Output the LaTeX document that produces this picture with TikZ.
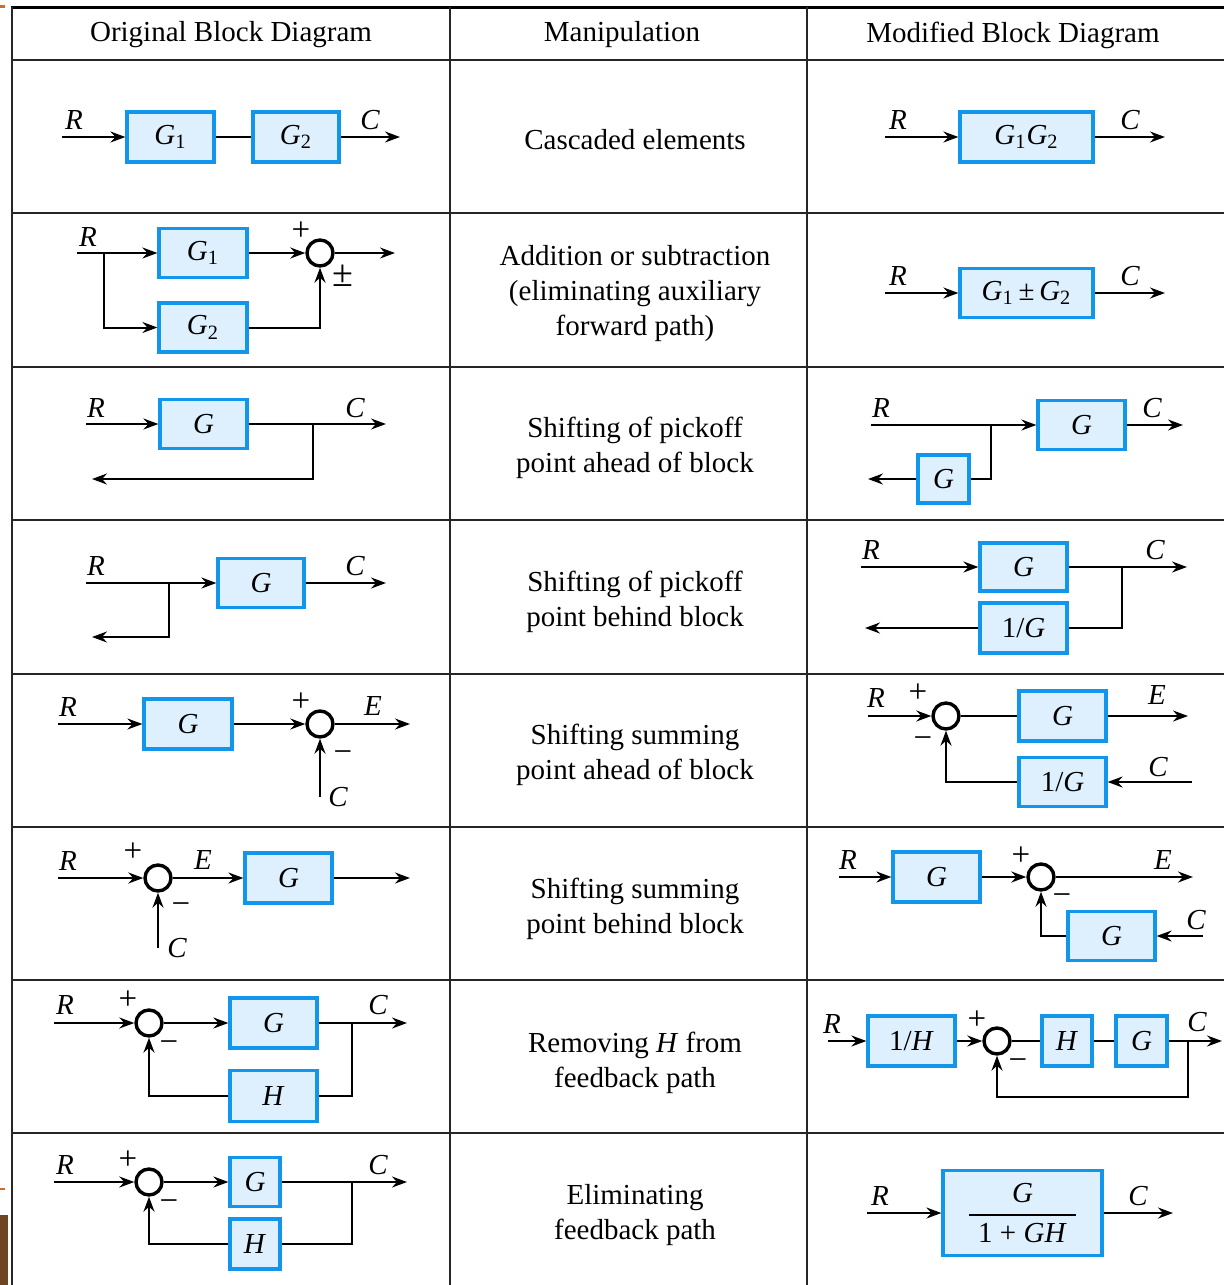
\documentclass[tikz,border=0pt]{standalone}
\usepackage{fontspec}
\setmainfont{Liberation Serif}
\usetikzlibrary{arrows.meta}
\definecolor{bblue}{RGB}{18,150,235}
\definecolor{bfill}{RGB}{222,239,253}
\definecolor{artor}{RGB}{205,110,40}
\definecolor{artbr}{RGB}{110,70,35}
\newcommand{\Gone}{\textit{G}\textsubscript{1}}
\newcommand{\Gtwo}{\textit{G}\textsubscript{2}}
\newcommand{\mns}{\char"2212}
\tikzset{
 every node/.style={font=\fontsize{14.5}{17.5}\selectfont},
 blk/.style={draw=bblue, fill=bfill, line width=1.6pt, inner sep=0pt},
 wh/.style 2 args={minimum width=#1*0.5pt, minimum height=#2*0.5pt},
 sumj/.style={circle, draw, line width=1.7pt, minimum size=13pt, inner sep=0pt},
 ln/.style={line width=1pt},
 ar/.style={line width=1pt, -{Stealth[length=7.5pt,width=5.5pt,inset=2.5pt]}},
 lbl/.style={inner sep=0pt, font=\fontsize{14.5}{17.5}\selectfont\itshape},
 sg/.style={inner sep=0pt, font=\fontsize{16.5}{18}\selectfont},
 mid/.style={align=center, inner sep=0pt},
 tline/.style={line width=1.2pt, draw=black!85},
}
\begin{document}
\begin{tikzpicture}[x=0.5pt,y=-0.5pt]
\useasboundingbox (0,0) rectangle (1224,1285);
% edge artifacts
\fill[artor] (0,5) rectangle (5,8);
\fill[artor] (0,1188) rectangle (5,1190);
\fill[artbr] (0,1215) rectangle (8,1285);
% table
\draw[line width=1.5pt] (11,7) -- (1224,7);
\foreach \yy in {60,213,367,520,674,827,980,1133} \draw[tline] (11,\yy) -- (1224,\yy);
\foreach \xx in {12,450,807} \draw[tline] (\xx,7) -- (\xx,1285);
% headers
\node (h1) at (231,35) {Original Block Diagram};
\node (h2) at (622,35) {Manipulation};
\node (h3) at (1013,35) {Modified Block Diagram};

% ---------- Row 1
\node[blk,wh={87}{50}] (r1a) at (170.5,137) {\Gone};
\node[blk,wh={86}{50}] (r1b) at (296,137) {\Gtwo};
\coordinate (r1i) at (62,137); \coordinate (r1o) at (400,137);
\draw[ar] (r1i) -- (r1a); \draw[ln] (r1a) -- (r1b); \draw[ar] (r1b) -- (r1o);
\node[lbl] (r1R) at (74,120) {R}; \node[lbl] (r1C) at (370,120) {C};
\node[mid] (r1m) at (635,140) {Cascaded elements};
\node[blk,wh={133}{50}] (r1c) at (1026.5,137) {\Gone\Gtwo};
\coordinate (r1j) at (885,137); \coordinate (r1p) at (1165,137);
\draw[ar] (r1j) -- (r1c); \draw[ar] (r1c) -- (r1p);
\node[lbl] (r1R2) at (898,120) {R}; \node[lbl] (r1C2) at (1130,120) {C};

% ---------- Row 2
\node[blk,wh={88}{49}] (r2a) at (203,253) {\Gone};
\node[blk,wh={88}{49}] (r2b) at (203,327.5) {\Gtwo};
\node[sumj] (r2s) at (320,253) {};
\coordinate (r2i) at (77,253); \coordinate (r2k) at (104,253); \coordinate (r2o) at (395,253);
\draw[ar] (r2i) -- (r2a); \draw[ar] (r2k) |- (r2b); \draw[ar] (r2a) -- (r2s);
\draw[ar] (r2s) -- (r2o); \draw[ar] (r2b) -| (r2s);
\node[lbl] (r2R) at (88,237) {R};
\node[sg] (r2p1) at (301,231) {+}; \node[sg,font=\fontsize{19}{20}\selectfont] (r2p2) at (343,276) {±};
\node[mid] (r2m) at (635,294) {Addition or subtraction\\(eliminating auxiliary\\forward path)};
\node[blk,wh={133}{49}] (r2c) at (1026.5,293) {\Gone\,±\,\Gtwo};
\coordinate (r2j) at (885,293); \coordinate (r2p) at (1165,293);
\draw[ar] (r2j) -- (r2c); \draw[ar] (r2c) -- (r2p);
\node[lbl] (r2R2) at (898,276) {R}; \node[lbl] (r2C2) at (1130,276) {C};

% ---------- Row 3
\node[blk,wh={87}{49}] (r3a) at (203.5,424) {\textit{G}};
\coordinate (r3i) at (86,424); \coordinate (r3o) at (386,424);
\coordinate (r3k) at (313,424); \coordinate (r3f) at (92,479);
\draw[ar] (r3i) -- (r3a); \draw[ar] (r3a) -- (r3o); \draw[ar] (r3k) |- (r3f);
\node[lbl] (r3R) at (96,408) {R}; \node[lbl] (r3C) at (355,408) {C};
\node[mid] (r3m) at (635,447.5) {Shifting of pickoff\\point ahead of block};
\node[blk,wh={87}{49}] (r3b) at (1081.5,425) {\textit{G}};
\node[blk,wh={51}{48}] (r3c) at (943.5,479) {\textit{G}};
\coordinate (r3j) at (871,425); \coordinate (r3p) at (1183,425);
\coordinate (r3q) at (991,425); \coordinate (r3g) at (868,479);
\draw[ar] (r3j) -- (r3b); \draw[ar] (r3b) -- (r3p); \draw[ln] (r3q) |- (r3c); \draw[ar] (r3c) -- (r3g);
\node[lbl] (r3R2) at (881,408) {R}; \node[lbl] (r3C2) at (1152,408) {C};

% ---------- Row 4
\node[blk,wh={86}{49}] (r4a) at (261,583) {\textit{G}};
\coordinate (r4i) at (86,583); \coordinate (r4o) at (386,583);
\coordinate (r4k) at (169,583); \coordinate (r4f) at (92,637);
\draw[ar] (r4i) -- (r4a); \draw[ar] (r4a) -- (r4o); \draw[ar] (r4k) |- (r4f);
\node[lbl] (r4R) at (96,566) {R}; \node[lbl] (r4C) at (355,566) {C};
\node[mid] (r4m) at (635,601.5) {Shifting of pickoff\\point behind block};
\node[blk,wh={87}{48}] (r4b) at (1023.5,567) {\textit{G}};
\node[blk,wh={87}{50}] (r4c) at (1023.5,628) {1/\textit{G}};
\coordinate (r4j) at (861,567); \coordinate (r4p) at (1187,567);
\coordinate (r4q) at (1122,567); \coordinate (r4g) at (865,628);
\draw[ar] (r4j) -- (r4b); \draw[ar] (r4b) -- (r4p); \draw[ln] (r4q) |- (r4c); \draw[ar] (r4c) -- (r4g);
\node[lbl] (r4R2) at (871,550) {R}; \node[lbl] (r4C2) at (1155,550) {C};

% ---------- Row 5
\node[blk,wh={88}{50}] (r5a) at (188,724) {\textit{G}};
\node[sumj] (r5s) at (320,724) {};
\coordinate (r5i) at (58,724); \coordinate (r5o) at (410,724); \coordinate (r5f) at (320,797);
\draw[ar] (r5i) -- (r5a); \draw[ar] (r5a) -- (r5s); \draw[ar] (r5s) -- (r5o); \draw[ar] (r5f) -- (r5s);
\node[lbl] (r5R) at (68,707) {R}; \node[sg] (r5p1) at (301,702) {+}; \node[sg] (r5m1) at (343,757) {\mns};
\node[lbl] (r5E) at (373,706) {E}; \node[lbl] (r5C) at (338,797) {C};
\node[mid] (r5m) at (635,755) {Shifting summing\\point ahead of block};
\node[sumj] (r5t) at (946,716) {};
\node[blk,wh={87}{50}] (r5b) at (1062.5,716) {\textit{G}};
\node[blk,wh={87}{49}] (r5c) at (1062.5,782) {1/\textit{G}};
\coordinate (r5j) at (868,716); \coordinate (r5p) at (1188,716); \coordinate (r5g) at (1192,782);
\draw[ar] (r5j) -- (r5t); \draw[ln] (r5t) -- (r5b); \draw[ar] (r5b) -- (r5p);
\draw[ar] (r5g) -- (r5c); \draw[ar] (r5c) -| (r5t);
\node[lbl] (r5R2) at (876,698) {R}; \node[sg] (r5p2) at (918,693) {+}; \node[sg] (r5m2) at (923,743) {\mns};
\node[lbl] (r5E2) at (1157,695) {E}; \node[lbl] (r5C2) at (1158,767) {C};

% ---------- Row 6
\node[sumj] (r6s) at (158,878) {};
\node[blk,wh={87}{50}] (r6a) at (288.5,878) {\textit{G}};
\coordinate (r6i) at (58,878); \coordinate (r6o) at (410,878); \coordinate (r6f) at (158,948);
\draw[ar] (r6i) -- (r6s); \draw[ar] (r6s) -- (r6a); \draw[ar] (r6a) -- (r6o); \draw[ar] (r6f) -- (r6s);
\node[lbl] (r6R) at (68,861) {R}; \node[sg] (r6p1) at (133,852) {+}; \node[sg] (r6m1) at (181,909) {\mns};
\node[lbl] (r6E) at (203,860) {E}; \node[lbl] (r6C) at (177,948) {C};
\node[mid] (r6m) at (635,908.5) {Shifting summing\\point behind block};
\node[blk,wh={87}{50}] (r6b) at (936.5,877) {\textit{G}};
\node[sumj] (r6t) at (1041,877) {};
\node[blk,wh={87}{49}] (r6c) at (1111.5,936) {\textit{G}};
\coordinate (r6j) at (839,877); \coordinate (r6p) at (1193,877); \coordinate (r6g) at (1203,936);
\draw[ar] (r6j) -- (r6b); \draw[ar] (r6b) -- (r6t); \draw[ar] (r6t) -- (r6p);
\draw[ar] (r6g) -- (r6c); \draw[ar] (r6c) -| (r6t);
\node[lbl] (r6R2) at (848,860) {R}; \node[sg] (r6p2) at (1021,856) {+}; \node[sg] (r6m2) at (1062,900) {\mns};
\node[lbl] (r6E2) at (1163,860) {E}; \node[lbl] (r6C2) at (1196,920) {C};

% ---------- Row 7
\node[sumj] (r7s) at (149,1023) {};
\node[blk,wh={87}{50}] (r7a) at (273.5,1023) {\textit{G}};
\node[blk,wh={87}{51}] (r7h) at (273.5,1096) {\textit{H}};
\coordinate (r7i) at (54,1023); \coordinate (r7o) at (407,1023); \coordinate (r7k) at (352,1023);
\draw[ar] (r7i) -- (r7s); \draw[ar] (r7s) -- (r7a); \draw[ar] (r7a) -- (r7o);
\draw[ln] (r7k) |- (r7h); \draw[ar] (r7h) -| (r7s);
\node[lbl] (r7R) at (65,1005) {R}; \node[sg] (r7p1) at (128,1000) {+}; \node[sg] (r7m1) at (169,1047) {\mns};
\node[lbl] (r7C) at (378,1005) {C};
\node[mid] (r7m) at (635,1062.5) {Removing \textit{H} from\\feedback path};
\node[blk,wh={87}{50}] (r7b) at (911.5,1041) {1/\textit{H}};
\node[sumj] (r7t) at (997,1041) {};
\node[blk,wh={50}{50}] (r7c) at (1067,1041) {\textit{H}};
\node[blk,wh={51}{50}] (r7d) at (1141.5,1041) {\textit{G}};
\coordinate (r7j) at (828,1041); \coordinate (r7p) at (1222,1041);
\coordinate (r7q) at (1188,1041); \coordinate (r7g) at (997,1097);
\draw[ar] (r7j) -- (r7b); \draw[ar] (r7b) -- (r7t); \draw[ln] (r7t) -- (r7c); \draw[ln] (r7c) -- (r7d);
\draw[ar] (r7d) -- (r7p); \draw[ar] (r7q) |- (r7g) -- (r7t);
\node[lbl] (r7R2) at (832,1024) {R}; \node[sg] (r7p2) at (977,1020) {+}; \node[sg] (r7m2) at (1018,1065) {\mns};
\node[lbl] (r7C2) at (1197,1022) {C};

% ---------- Row 8
\node[sumj] (r8s) at (149,1182) {};
\node[blk,wh={50}{49}] (r8a) at (255,1182) {\textit{G}};
\node[blk,wh={50}{50}] (r8h) at (255,1244) {\textit{H}};
\coordinate (r8i) at (54,1182); \coordinate (r8o) at (407,1182); \coordinate (r8k) at (352,1182);
\draw[ar] (r8i) -- (r8s); \draw[ar] (r8s) -- (r8a); \draw[ar] (r8a) -- (r8o);
\draw[ln] (r8k) |- (r8h); \draw[ar] (r8h) -| (r8s);
\node[lbl] (r8R) at (65,1165) {R}; \node[sg] (r8p1) at (128,1160) {+}; \node[sg] (r8m1) at (169,1206) {\mns};
\node[lbl] (r8C) at (378,1165) {C};
\node[mid] (r8m) at (635,1215.5) {Eliminating\\feedback path};
\node[blk,wh={159}{85}] (r8b) at (1022.5,1213) {$\displaystyle{\mbox{\textit{G}}\above 1pt\mbox{\hspace{4.5pt}1 + \textit{GH}\hspace{4.5pt}}}$};
\coordinate (r8j) at (867,1213); \coordinate (r8p) at (1173,1213);
\draw[ar] (r8j) -- (r8b); \draw[ar] (r8b) -- (r8p);
\node[lbl] (r8R2) at (880,1196) {R}; \node[lbl] (r8C2) at (1138,1196) {C};
\end{tikzpicture}
\end{document}
